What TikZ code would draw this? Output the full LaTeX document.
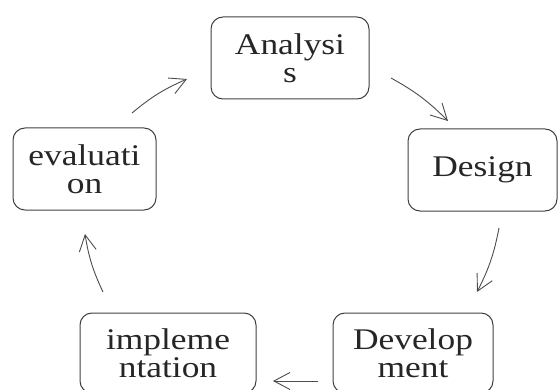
\documentclass[tikz,border=0pt]{standalone}
\usepackage{fontspec}
\setmainfont{Liberation Serif}
\usetikzlibrary{arrows.meta}
\newcommand{\stretchtxt}[1]{\scalebox{1.18}[1]{#1}}
\begin{document}
\begin{tikzpicture}[x=1pt,y=-1pt,
  stage/.style={draw=black!75, line width=1pt, rounded corners=12pt, align=center,
    inner sep=0pt, font=\fontsize{30}{28}\selectfont, text=black!85},
  flow/.style={draw=black!70, line width=0.9pt,
    -{Straight Barb[length=16pt,width=17pt,line width=0.9pt]}}]
\useasboundingbox (0,0) rectangle (559,390);
\clip (0,0) rectangle (559,390);
\node[stage, minimum width=158pt, minimum height=82pt] (ana) at (290,58)
  {\stretchtxt{Analysi}\\\stretchtxt{s}};
\node[stage, minimum width=149pt, minimum height=82pt] (des) at (482.5,170)
  {\stretchtxt{Design}};
\node[stage, minimum width=160pt, minimum height=80pt] (dev) at (413,353)
  {\stretchtxt{Develop}\\\stretchtxt{ment}};
\node[stage, minimum width=176pt, minimum height=80pt] (imp) at (168,353)
  {\stretchtxt{impleme}\\\stretchtxt{ntation}};
\node[stage, minimum width=143pt, minimum height=82pt] (eva) at (84.5,169)
  {\stretchtxt{evaluati}\\\stretchtxt{on}};
\coordinate (ea1) at (132,113); \coordinate (ea2) at (187,79);
\coordinate (ad1) at (391,78);  \coordinate (ad2) at (448,121);
\coordinate (dd1) at (499,228); \coordinate (dd2) at (477,292);
\coordinate (di1) at (318,381); \coordinate (di2) at (273,381);
\coordinate (ie1) at (103,292); \coordinate (ie2) at (85,234);
\draw[flow] (ea1) to[bend left=8] (ea2);
\draw[flow] (ad1) to[bend left=8] (ad2);
\draw[flow] (dd1) to[bend left=8] (dd2);
\draw[flow] (di1) -- (di2);
\draw[flow] (ie1) to[bend left=8] (ie2);
\end{tikzpicture}
\end{document}
